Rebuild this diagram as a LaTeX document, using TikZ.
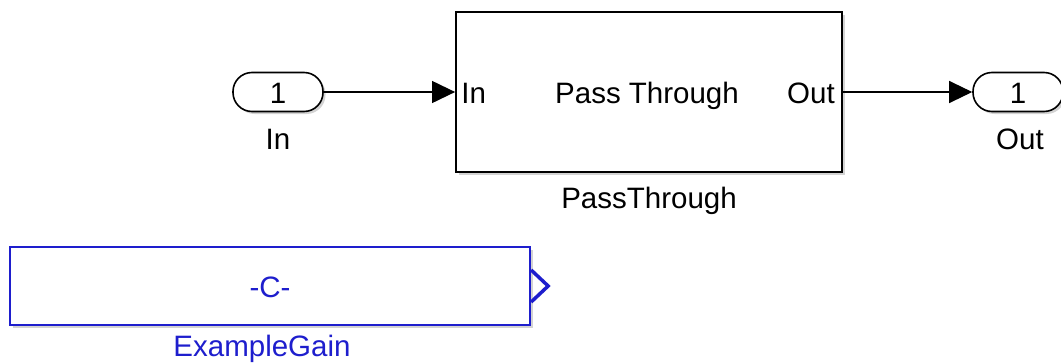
\documentclass[tikz,border=0pt]{standalone}
\usepackage{fontspec}
\setmainfont{Liberation Sans}
\usetikzlibrary{arrows.meta,shadows}
\definecolor{slblue}{RGB}{30,30,205}
\begin{document}
\begin{tikzpicture}[x=1pt,y=-1pt,
  every node/.style={font=\fontsize{29.5}{34}\selectfont, inner sep=0pt},
  sh/.style={drop shadow={shadow xshift=2.5pt,shadow yshift=-2.5pt,opacity=0.35,fill=gray}},
  port/.style={draw, line width=1.6pt, rounded corners=19pt, minimum width=90pt, minimum height=39pt, fill=white, sh},
  blk/.style={draw, line width=1.8pt, fill=white, sh},
  conn/.style={line width=1.2pt, -{Triangle[length=23pt,width=22pt]}},
  lbl/.style={anchor=base}
]
\useasboundingbox (0,0) rectangle (1061,362);
% In port
\node[port] (inp) at (278,92) {};
\node[lbl] (innum) at (278,103) {1};
\node[lbl] (inlbl) at (278,149) {In};
% PassThrough block
\node[blk, minimum width=386pt, minimum height=160pt] (pt) at (649,92) {};
\node[lbl, anchor=base west] (ptin) at ([xshift=6pt,yshift=-11pt]pt.west) {In};
\node[lbl] (pttxt) at ([xshift=-2pt,yshift=-11pt]pt.center) {Pass Through};
\node[lbl, anchor=base east] (ptout) at ([xshift=-8pt,yshift=-11pt]pt.east) {Out};
\node[lbl] (ptlbl) at (649,208) {PassThrough};
% Out port
\node[port] (outp) at (1018,92) {};
\node[lbl] (outnum) at (1018,103) {1};
\node[lbl] (outlbl) at (1020,149) {Out};
% connectors
\draw[conn] (inp.east) -- (pt.west);
\draw[conn] (pt.east) -- (outp.west);
% ExampleGain
\node[blk, line width=2.3pt, draw=slblue, text=slblue, minimum width=520pt, minimum height=78pt] (gain) at (270,286) {};
\node[lbl, text=slblue] (gaintxt) at ([yshift=-11pt]gain.center) {-C-};
\node[lbl, text=slblue] (gainlbl) at (262,356) {ExampleGain};
\coordinate (chA) at ([yshift=-16pt]gain.east);
\coordinate (chB) at ([xshift=17pt]gain.east);
\coordinate (chC) at ([yshift=16pt]gain.east);
\draw[slblue, line width=3.5pt, line join=miter] (chA) -- (chB) -- (chC);
\end{tikzpicture}
\end{document}
